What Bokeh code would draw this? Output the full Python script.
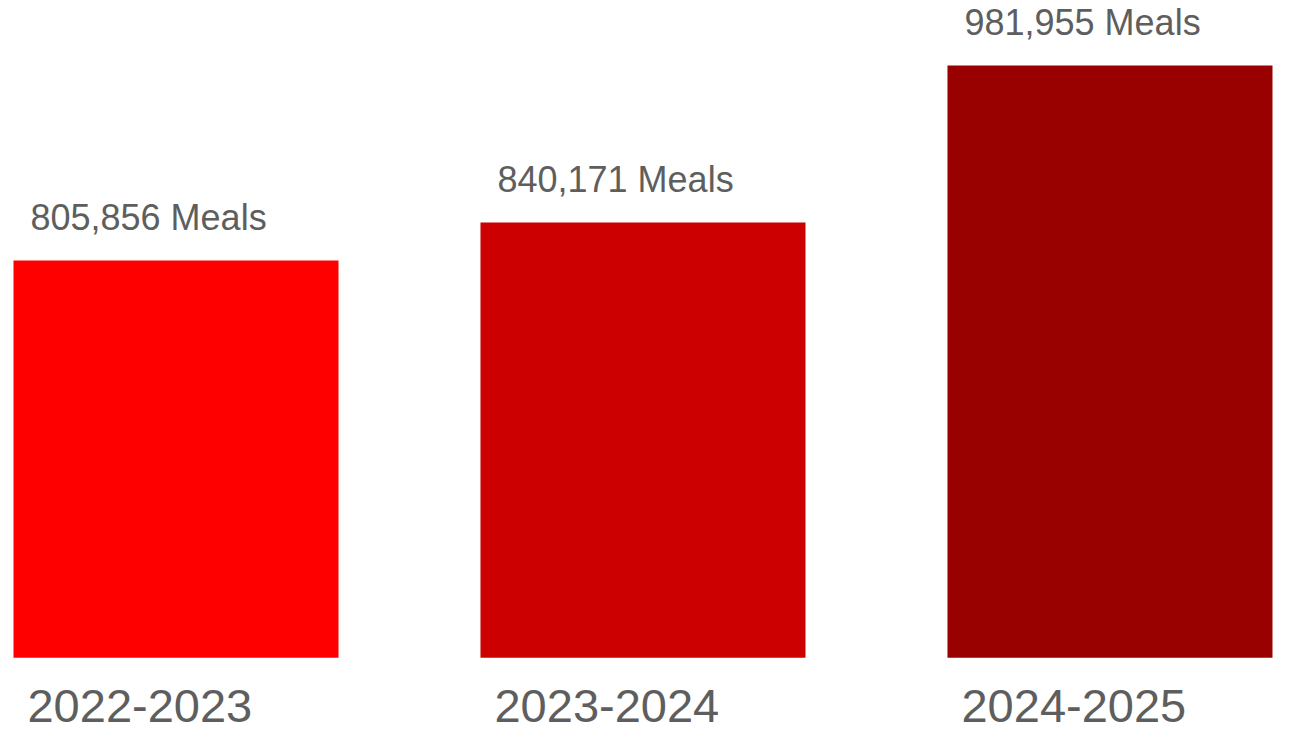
from bokeh.plotting import figure
from bokeh.models import ColumnDataSource, Range1d
from bokeh.core.properties import value
from bokeh.embed import file_html
from bokeh.resources import INLINE

# ---- data ----
years = ["2022-2023", "2023-2024", "2024-2025"]
meals = [805856, 840171, 981955]
bar_colors = ["#ff0000", "#cc0000", "#990000"]

# ---- derived table ----
bar_width = 0.696
xs = list(range(len(years)))
axis_floor = 447000
src = ColumnDataSource(dict(
    x=xs,
    left=[x - bar_width / 2 for x in xs],
    year=years,
    meals=meals,
    floor=[axis_floor] * len(years),
    label=[f"{m:,} Meals" for m in meals],
    color=bar_colors,
))

p = figure(width=1291, height=738, output_backend="svg", toolbar_location=None,
           x_range=Range1d(-0.3758, 2.3887), y_range=Range1d(374000, 1040600),
           min_border=0, min_border_left=0, min_border_right=0,
           min_border_top=0, min_border_bottom=0)
p.axis.visible = False
p.grid.visible = False
p.outline_line_color = None
p.background_fill_color = "white"
p.border_fill_color = "white"

p.vbar(x="x", width=bar_width, bottom="floor", top="meals", source=src,
       fill_color="color", line_color=None)

# value labels above bars
p.text(x="left", y="meals", text="label", source=src,
       x_offset=17, y_offset=-43, text_baseline="alphabetic", text_align="left",
       text_font=value("Liberation Sans"), text_font_size="36px", text_color="#5e5e5e")

# year labels under bars
p.text(x="left", y="floor", text="year", source=src,
       x_offset=14, y_offset=48, text_baseline="alphabetic", text_align="left",
       text_font=value("Liberation Sans"), text_font_size="47px", text_color="#5e5e5e")

open("out.html", "w").write(file_html(p, INLINE))
